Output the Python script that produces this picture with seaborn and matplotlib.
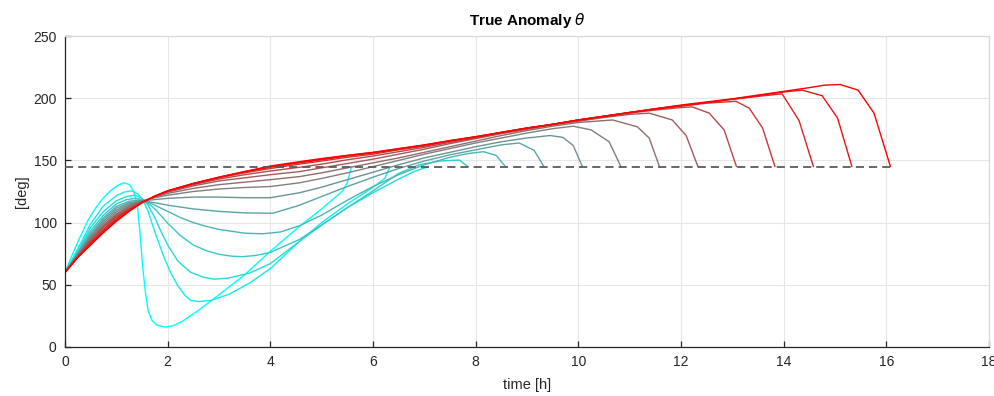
import matplotlib
matplotlib.use("Agg")
import matplotlib.pyplot as plt
import pandas as pd
import seaborn as sns

# ---- trajectories: true anomaly [deg] versus time [h], one per final time ----
t_00 = [0, 0.15, 0.3, 0.45, 0.6, 0.75, 0.9, 1.03, 1.15, 1.26, 1.34, 1.41, 1.46, 1.51, 1.56, 1.62, 1.7, 1.8, 1.95, 2.1, 2.3, 2.6, 3.0, 3.5, 4.0, 4.57, 5.0, 5.41, 5.5, 5.58]
th_00 = [60, 75, 89, 102, 112, 120, 126, 130, 132, 130.5, 125, 114, 92, 66, 46, 29, 21, 17.5, 16, 17, 21, 29.5, 42, 58, 77, 97, 111, 125.5, 132, 145]

t_01 = [0, 0.25, 0.5, 0.75, 1.0, 1.15, 1.3, 1.42, 1.52, 1.62, 1.73, 1.85, 1.95, 2.05, 2.2, 2.35, 2.45, 2.6, 2.85, 3.2, 3.6, 4.0, 4.57, 5.0, 5.5, 5.97, 6.23, 6.33]
th_01 = [60, 79, 99, 113.5, 121.5, 124.5, 125.6, 123, 118, 109, 95, 81, 70, 60.5, 49, 41, 37.5, 36.5, 37.5, 42.5, 51.5, 63, 85, 100, 115, 127.5, 135.5, 145]

t_02 = [0, 0.25, 0.5, 0.75, 1.0, 1.2, 1.36, 1.5, 1.62, 1.75, 1.88, 2.0, 2.2, 2.45, 2.7, 2.92, 3.2, 3.6, 4.0, 4.57, 5.0, 5.5, 6.0, 6.5, 6.8, 7.08]
th_02 = [60, 77, 96, 109, 117.5, 121, 122, 119.5, 114, 104, 92, 82, 69, 60, 56, 54.5, 55.5, 59.5, 67, 85, 98, 112, 124, 135, 141, 145]

t_03 = [0, 0.25, 0.5, 0.75, 1.0, 1.2, 1.39, 1.55, 1.7, 1.85, 2.0, 2.25, 2.5, 2.75, 3.0, 3.25, 3.45, 3.7, 4.0, 4.57, 5.0, 5.5, 6.0, 6.5, 6.9, 7.3, 7.68, 7.85]
th_03 = [60, 76, 93.5, 106, 115, 118.5, 119.5, 117.5, 113, 106.5, 99.5, 89.5, 82, 77.5, 74.5, 73, 72.6, 73.5, 76, 86.5, 98, 112, 125.5, 139.5, 146.5, 149.5, 150.3, 145]

t_04 = [0, 0.25, 0.5, 0.75, 1.0, 1.25, 1.45, 1.6, 1.75, 2.0, 2.25, 2.5, 2.75, 3.0, 3.5, 3.85, 4.2, 4.57, 5.0, 5.5, 6.0, 6.5, 7.0, 7.5, 7.85, 8.15, 8.4, 8.58]
th_04 = [60, 75.5, 91.5, 104, 113, 117.2, 118, 117, 114, 109, 104, 100, 97, 94.5, 91.5, 91, 92.5, 97.5, 106, 118, 129, 138.5, 146.5, 152.5, 155.5, 157, 154, 145]

t_05 = [0, 0.25, 0.5, 0.75, 1.0, 1.25, 1.5, 1.75, 2.0, 2.5, 3.0, 3.5, 4.05, 4.57, 5.0, 5.5, 6.0, 6.5, 7.0, 7.5, 8.0, 8.5, 8.85, 9.14, 9.33]
th_05 = [60, 75, 90, 102.5, 111.5, 116, 117.5, 116, 114, 111, 109, 107.8, 107.5, 114, 121, 129, 136.5, 143.5, 149.5, 154.5, 158.5, 162.5, 164, 158, 145]

t_06 = [0, 0.25, 0.5, 0.75, 1.0, 1.25, 1.5, 1.75, 2.0, 2.5, 3.0, 3.5, 4.0, 4.57, 5.0, 5.5, 6.0, 6.5, 7.0, 7.5, 8.0, 8.5, 9.0, 9.45, 9.7, 9.9, 10.08]
th_06 = [60, 74.5, 89, 101, 110, 115, 117.5, 118.5, 119.5, 120.5, 120.5, 120, 120, 124, 128.5, 134.5, 140.5, 146.5, 152, 156.5, 161, 165, 168, 170, 168.5, 162, 145]

t_07 = [0, 0.25, 0.5, 0.75, 1.0, 1.25, 1.5, 1.75, 2.0, 2.5, 3.0, 3.5, 4.0, 4.57, 5.0, 5.5, 6.0, 6.5, 7.0, 7.5, 8.0, 8.5, 9.0, 9.5, 9.9, 10.25, 10.6, 10.83]
th_07 = [60, 74, 88, 99.5, 108.5, 114, 117.3, 120, 122, 125, 127, 128.2, 129, 132, 135.5, 140, 145, 150, 155, 159.5, 164, 168, 172, 175.5, 177.5, 174.5, 165, 145]

t_08 = [0, 0.25, 0.5, 0.75, 1.0, 1.25, 1.5, 1.75, 2.0, 2.5, 3.0, 3.5, 4.0, 4.57, 5.0, 5.5, 6.0, 6.5, 7.0, 7.5, 8.0, 8.5, 9.0, 9.5, 10.0, 10.67, 11.15, 11.38, 11.58]
th_08 = [60, 73.5, 87, 98, 107, 113, 117, 120.5, 123.5, 127.5, 130.5, 132.5, 134.5, 137, 140, 144, 148, 152, 156.5, 161, 165.5, 170, 174, 177.5, 180.5, 182.5, 177, 168, 145]

t_09 = [0, 0.25, 0.5, 0.75, 1.0, 1.25, 1.5, 1.75, 2.0, 2.5, 3.0, 3.5, 4.0, 4.57, 5.0, 5.5, 6.0, 6.5, 7.0, 7.5, 8.0, 8.5, 9.0, 9.5, 10.0, 10.5, 11.0, 11.38, 11.83, 12.1, 12.33]
th_09 = [60, 73, 86, 97, 106, 112, 116.8, 121, 124.5, 129.5, 133.5, 136, 138.5, 141, 144, 147.5, 151, 155, 159, 163.5, 167.5, 171.5, 175, 178.5, 181.5, 184.5, 187, 188, 182.5, 170, 145]

t_10 = [0, 0.25, 0.5, 0.75, 1.0, 1.25, 1.5, 1.75, 2.0, 2.5, 3.0, 3.5, 4.0, 4.57, 5.0, 5.5, 6.0, 6.5, 7.0, 7.5, 8.0, 8.5, 9.0, 9.5, 10.0, 10.5, 11.0, 11.5, 12.0, 12.22, 12.55, 12.84, 13.08]
th_10 = [60, 72.8, 85, 96, 105, 111, 116.5, 121, 125, 130.5, 135, 138.5, 141.5, 144.5, 147, 150.5, 153.5, 157, 160.5, 164.5, 168, 172, 175.5, 179, 182, 185, 188, 190.5, 192.5, 193, 188, 174.5, 145]

t_11 = [0, 0.25, 0.5, 0.75, 1.0, 1.25, 1.5, 1.75, 2.0, 2.5, 3.0, 3.5, 4.0, 4.57, 5.0, 5.5, 6.0, 6.5, 7.0, 7.5, 8.0, 8.5, 9.0, 9.5, 10.0, 10.5, 11.0, 11.5, 12.0, 12.5, 13.07, 13.33, 13.59, 13.83]
th_11 = [60, 72.5, 84, 94.5, 104, 110.5, 116.3, 121.2, 125.3, 131, 136, 140, 143.5, 147, 149.5, 152.5, 155, 158.5, 161.5, 165.5, 168.5, 172.5, 176, 179, 182.5, 185.5, 188.5, 191, 193.5, 196, 197.5, 192, 176, 145]

t_12 = [0, 0.25, 0.5, 0.75, 1.0, 1.25, 1.5, 1.75, 2.0, 2.5, 3.0, 3.5, 4.0, 4.57, 5.0, 5.5, 6.0, 6.5, 7.0, 7.5, 8.0, 8.5, 9.0, 9.5, 10.0, 10.5, 11.0, 11.5, 12.0, 12.5, 13.0, 13.5, 13.97, 14.3, 14.58]
th_12 = [60, 72.3, 83.5, 93.5, 103, 110, 116, 121.3, 125.5, 131.3, 136.3, 140.8, 144.5, 148, 150.5, 153.5, 156, 159, 162, 165.5, 169, 172.5, 176, 179, 182.5, 185.5, 188.5, 191.5, 194, 196.5, 199, 201.5, 203.5, 182, 145]

t_13 = [0, 0.25, 0.5, 0.75, 1.0, 1.25, 1.5, 1.75, 2.0, 2.5, 3.0, 3.5, 4.0, 4.57, 5.0, 5.5, 6.0, 6.5, 7.0, 7.5, 8.0, 8.5, 9.0, 9.5, 10.0, 10.5, 11.0, 11.5, 12.0, 12.5, 13.0, 13.5, 14.0, 14.36, 14.75, 15.05, 15.33]
th_13 = [60, 72.1, 82.5, 92.5, 102, 109.5, 116, 121.3, 125.5, 131.5, 136.5, 141, 145, 148.5, 151, 154, 156.3, 159.3, 162.3, 165.8, 169, 172.5, 176, 179, 182.5, 185.5, 188.5, 191.5, 194, 196.5, 199.3, 202, 205, 206.5, 202, 184, 145]

t_14 = [0, 0.25, 0.5, 0.75, 1.0, 1.25, 1.5, 1.75, 2.0, 2.5, 3.0, 3.5, 4.0, 4.57, 5.0, 5.5, 6.0, 6.5, 7.0, 7.5, 8.0, 8.5, 9.0, 9.5, 10.0, 10.5, 11.0, 11.5, 12.0, 12.5, 13.0, 13.5, 14.0, 14.5, 14.8, 15.1, 15.45, 15.76, 16.08]
th_14 = [60, 72, 82, 92, 101, 109, 116, 121.3, 125.5, 131.5, 136.5, 141, 145.5, 149, 151.5, 154, 156.5, 159.5, 162.5, 166, 169, 172.5, 176, 179, 182.5, 185.5, 188.5, 191.5, 194.5, 197, 199.5, 202.5, 205.5, 208.5, 210.5, 211, 206.5, 188, 145]

# target anomaly and the span of the reference line
theta_target = 145
target_span = [0, 16.08]

x_ticks = [0, 2, 4, 6, 8, 10, 12, 14, 16, 18]
y_ticks = [0, 50, 100, 150, 200, 250]

times = [t_00, t_01, t_02, t_03, t_04, t_05, t_06, t_07, t_08, t_09, t_10, t_11, t_12, t_13, t_14]
thetas = [th_00, th_01, th_02, th_03, th_04, th_05, th_06, th_07, th_08, th_09, th_10, th_11, th_12, th_13, th_14]

frames = []
for k, (tt, th) in enumerate(zip(times, thetas)):
    frames.append(pd.DataFrame({"time": tt, "theta": th, "run": k}))
df = pd.concat(frames, ignore_index=True)

n = len(times)
# colour ramp from cyan (shortest transfer) to red (longest transfer)
palette = [(k / (n - 1), 1 - k / (n - 1), 1 - k / (n - 1)) for k in range(n)]

sns.set_theme(style="white")
plt.rcParams["font.family"] = ["Liberation Sans", "DejaVu Sans"]

fig = plt.figure(figsize=(9.95, 3.96), dpi=100)
ax = fig.add_axes([65 / 995, 1 - 347 / 396, (989 - 65) / 995, (347 - 36) / 396])

sns.lineplot(data=df, x="time", y="theta", hue="run", palette=palette,
             estimator=None, sort=False, linewidth=1.0, legend=False, ax=ax)

target = pd.DataFrame({"time": target_span, "theta": [theta_target, theta_target]})
sns.lineplot(data=target, x="time", y="theta", color="#5a5a5a", linewidth=1.3,
             ax=ax, zorder=5)
ax.lines[-1].set_dashes((4.5, 2.8))

ax.set_xlim(x_ticks[0], x_ticks[-1])
ax.set_ylim(y_ticks[0], y_ticks[-1])
ax.set_xticks(x_ticks)
ax.set_yticks(y_ticks)
ax.grid(True, color="#e6e6e6", linewidth=0.8)
ax.set_axisbelow(True)

dark = "#262626"
for side in ["left", "bottom"]:
    ax.spines[side].set_color(dark)
    ax.spines[side].set_linewidth(0.9)
for side in ["top", "right"]:
    ax.spines[side].set_color("#d9d9d9")
    ax.spines[side].set_linewidth(0.9)

ax.tick_params(axis="both", direction="in", length=4, width=0.9, color=dark,
               labelcolor=dark, labelsize=10, pad=6,
               bottom=True, left=True, top=False, right=False)

ax.set_xlabel("time [h]", fontsize=10.5, color=dark, labelpad=6)
ax.set_ylabel("[deg]", fontsize=10.5, color=dark, labelpad=3)
ax.set_title(r"True Anomaly $\theta$", fontsize=11, fontweight="bold",
             color="black", pad=8)

fig.savefig("out.png", dpi=100)
